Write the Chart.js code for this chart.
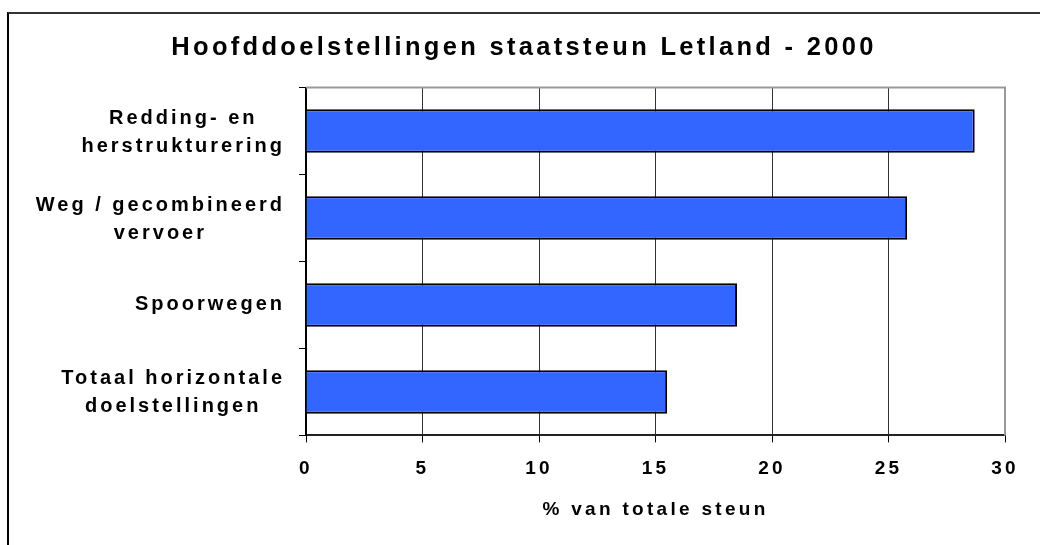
<!DOCTYPE html>
<html>
<head>
<meta charset="utf-8">
<script src="https://cdn.jsdelivr.net/npm/chart.js@4/dist/chart.umd.min.js"></script>
<style>
  body { margin: 0; background: #fff; }
  #wrap { position: relative; width: 1040px; height: 545px; }
  #frame { position: absolute; left: 7px; top: 12px; right: 0; bottom: 0;
           border-left: 2px solid #000; border-top: 2px solid #333; pointer-events: none; }
</style>
</head>
<body>
<div id="wrap">
  <canvas id="mycanvas" width="1040" height="545"></canvas>
  <div id="frame"></div>
</div>
<script>
// categories (multi-line labels) and values
var categories = [
  ['Redding- en', 'herstrukturering'],
  ['Weg / gecombineerd', 'vervoer'],
  ['Spoorwegen'],
  ['Totaal horizontale', 'doelstellingen']
];
var values = [28.7, 25.8, 18.5, 15.5];
var xMin = 0, xMax = 30, xStep = 5;

var fontFamily = '"Liberation Sans", Arial, sans-serif';

// wide letter spacing like the old spreadsheet chart
var spacingPlugin = {
  id: 'spacing',
  beforeDraw: function(chart) {
    chart.ctx.letterSpacing = '3.3px';
  }
};

// grey top/right edge of the plot area
var plotBorder = {
  id: 'plotBorder',
  afterDatasetsDraw: function(chart) {
    var a = chart.chartArea, ctx = chart.ctx;
    ctx.save();
    ctx.strokeStyle = '#999';
    ctx.lineWidth = 2;
    ctx.beginPath();
    ctx.moveTo(a.left, a.top);
    ctx.lineTo(a.right, a.top);
    ctx.lineTo(a.right, a.bottom);
    ctx.stroke();
    ctx.restore();
  }
};

// category labels: each block right aligned, lines centred inside it
var yLabels = {
  id: 'yLabels',
  afterDraw: function(chart) {
    var s = chart.scales.y, ctx = chart.ctx;
    ctx.save();
    ctx.font = 'bold 20px ' + fontFamily;
    ctx.letterSpacing = '3px';
    ctx.fillStyle = '#000';
    ctx.textAlign = 'center';
    ctx.textBaseline = 'middle';
    var right = chart.chartArea.left - 21;
    var lh = 28;
    chart.data.labels.forEach(function(lab, i) {
      var lines = [].concat(lab);
      var y = s.getPixelForTick(i);
      var w = 0;
      lines.forEach(function(l) { w = Math.max(w, ctx.measureText(l).width); });
      var cx = right - w / 2;
      var y0 = y - (lines.length - 1) * lh / 2 + (lines.length > 1 ? 1 : 0);
      lines.forEach(function(l, j) { ctx.fillText(l, cx, y0 + j * lh); });
    });
    ctx.restore();
  }
};

var chartdata = {
  labels: categories,
  datasets: [{
    label: '% van totale steun',
    data: values,
    backgroundColor: '#3366FF',
    borderColor: '#000',
    borderWidth: 2,
    barPercentage: 0.5,
    categoryPercentage: 1
  }]
};

var ctx = document.getElementById('mycanvas');

var barGraph = new Chart(ctx, {
  type: 'bar',
  data: chartdata,
  plugins: [spacingPlugin, plotBorder, yLabels],
  options: {
    indexAxis: 'y',
    responsive: false,
    animation: false,
    devicePixelRatio: 1,
    layout: { padding: { top: 18, right: 35, bottom: 10, left: 43 } },
    plugins: {
      legend: { display: false },
      tooltip: { enabled: false },
      title: {
        display: true,
        text: 'Hoofddoelstellingen staatsteun Letland - 2000',
        color: '#000',
        font: { family: fontFamily, size: 25.5, weight: 'bold' },
        padding: { top: 15, bottom: 24 }
      }
    },
    scales: {
      x: {
        min: xMin,
        max: xMax,
        ticks: {
          stepSize: xStep,
          color: '#000',
          padding: 15,
          font: { family: fontFamily, size: 19, weight: 'bold' }
        },
        grid: { color: '#333', lineWidth: 1, tickLength: 7, tickColor: '#000' },
        border: { color: '#222', width: 2 },
        title: {
          display: true,
          text: '% van totale steun',
          color: '#000',
          font: { family: fontFamily, size: 19, weight: 'bold' },
          padding: { top: 3, bottom: 14 }
        }
      },
      y: {
        ticks: { display: false },
        grid: { drawOnChartArea: false, drawTicks: true, tickLength: 7, color: '#000', offset: true },
        border: { color: '#000', width: 2 },
        afterFit: function(scale) { scale.width = 306 - 43; }
      }
    }
  }
});
</script>
</body>
</html>
